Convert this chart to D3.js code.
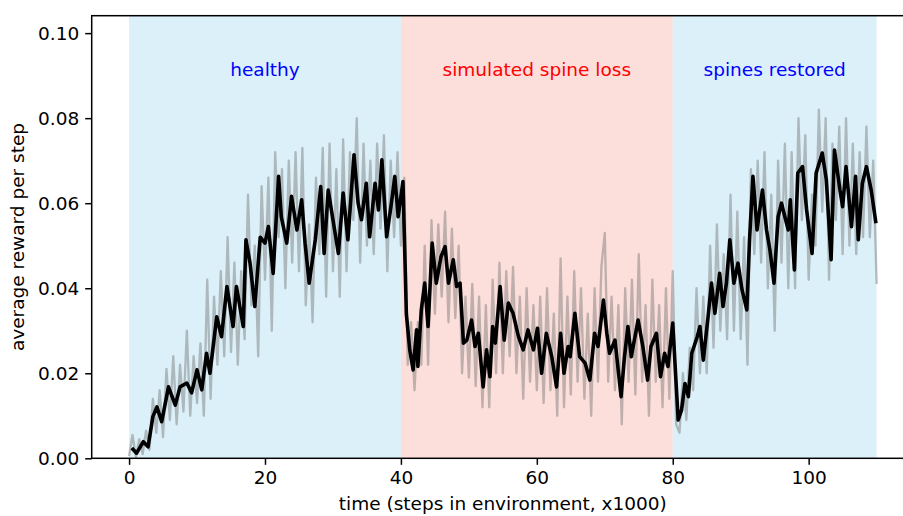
<!DOCTYPE html>
<html>
<head>
<meta charset="utf-8">
<script src="https://cdn.jsdelivr.net/npm/d3@7"></script>
<style>
  body { margin: 0; background: #fff; }
  text { font-family: "DejaVu Sans", sans-serif; }
</style>
</head>
<body>
<div id="chart"></div>
<script>
// experiment phases (x in thousands of steps)
const phaseNames = ['healthy', 'simulated spine loss', 'spines restored'];
const phaseStart = [0, 40, 80];
const phaseEnd = [40, 80, 110];
const phaseLabelX = [20, 60, 95];
const phaseFill = ['#dbf0f9', '#fcdeda', '#dbf0f9'];
const phaseTextColor = ['#0000ff', '#ff0000', '#0000ff'];

// raw reward trace, one sample every 500 steps from 0 to 110k
const rawStep = d3.range(0, 110.01, 0.5);
const rawReward = [
  0.0005, 0.0055, 0.0003, 0.0045, 0.001, 0.0065, 0.002, 0.014, 0.006, 0.016,
  0.005, 0.021, 0.009, 0.024, 0.008, 0.022, 0.011, 0.030, 0.010, 0.024,
  0.013, 0.027, 0.010, 0.042, 0.014, 0.038, 0.022, 0.044, 0.024, 0.052,
  0.025, 0.046, 0.022, 0.044, 0.028, 0.062, 0.036, 0.050, 0.024, 0.064,
  0.042, 0.066, 0.030, 0.072, 0.052, 0.068, 0.040, 0.070, 0.046, 0.072,
  0.044, 0.073, 0.036, 0.055, 0.032, 0.066, 0.048, 0.073, 0.038, 0.074,
  0.044, 0.068, 0.038, 0.075, 0.044, 0.072, 0.056, 0.080, 0.046, 0.074,
  0.050, 0.070, 0.048, 0.074, 0.054, 0.076, 0.044, 0.070, 0.052, 0.072,
  0.050, 0.066, 0.022, 0.032, 0.016, 0.032, 0.022, 0.050, 0.022, 0.056,
  0.034, 0.055, 0.038, 0.058, 0.032, 0.054, 0.033, 0.050, 0.020, 0.038,
  0.019, 0.041, 0.017, 0.038, 0.012, 0.036, 0.012, 0.042, 0.020, 0.046,
  0.020, 0.044, 0.024, 0.045, 0.020, 0.038, 0.014, 0.040, 0.018, 0.036,
  0.016, 0.038, 0.013, 0.040, 0.016, 0.034, 0.010, 0.047, 0.012, 0.038,
  0.015, 0.044, 0.018, 0.040, 0.014, 0.034, 0.010, 0.040, 0.018, 0.045,
  0.053, 0.018, 0.038, 0.016, 0.036, 0.008, 0.040, 0.018, 0.042, 0.015,
  0.048, 0.018, 0.036, 0.010, 0.042, 0.018, 0.036, 0.012, 0.040, 0.014,
  0.044, 0.008, 0.006, 0.020, 0.009, 0.026, 0.016, 0.040, 0.020, 0.038,
  0.020, 0.050, 0.026, 0.055, 0.030, 0.048, 0.028, 0.062, 0.030, 0.058,
  0.028, 0.052, 0.022, 0.068, 0.048, 0.070, 0.046, 0.072, 0.040, 0.062,
  0.030, 0.070, 0.046, 0.074, 0.040, 0.072, 0.040, 0.080, 0.056, 0.076,
  0.042, 0.062, 0.050, 0.082, 0.058, 0.080, 0.042, 0.074, 0.056, 0.078,
  0.048, 0.080, 0.050, 0.074, 0.048, 0.072, 0.052, 0.078, 0.052, 0.070,
  0.041
];

// smoothed reward (black line)
const meanStep = [
  0.4, 1.1, 2.1, 2.8, 3.5, 4.1, 4.8, 5.8, 6.8, 7.5, 8.5, 9.2, 10.0, 10.7, 11.4, 11.9,
  12.9, 13.6, 14.4, 15.3, 15.8, 16.8, 17.2, 17.8, 18.5, 19.3, 20.0, 20.5, 21.2, 22.0,
  22.4, 23.2, 23.9, 24.7, 25.4, 25.9, 26.5, 27.4, 28.2, 28.7, 29.3, 30.0, 30.8, 31.5,
  32.2, 33.1, 33.7, 34.2, 34.9, 35.4, 36.2, 36.7, 37.2, 37.9, 38.6, 39.1, 39.6, 40.3,
  40.8, 41.3, 41.8, 42.3, 42.5, 43.0, 43.5, 44.0, 44.6, 45.2, 45.9, 46.5, 47.0, 47.7,
  48.2, 48.7, 49.2, 49.7, 50.4, 50.9, 51.4, 52.1, 52.6, 53.1, 53.5, 53.9, 54.6, 55.2,
  55.8, 56.5, 57.3, 58.0, 58.7, 59.5, 60.1, 60.7, 61.4, 62.2, 62.9, 63.5, 64.0, 64.6,
  64.9, 65.6, 66.3, 67.1, 67.8, 68.5, 69.0, 69.8, 70.3, 70.7, 71.5, 72.4, 72.9, 73.4,
  73.9, 74.9, 75.6, 76.3, 76.8, 77.6, 78.2, 78.8, 79.3, 80.0, 80.8, 81.3, 81.8, 82.3,
  82.8, 83.6, 84.0, 84.5, 85.2, 85.7, 86.2, 86.9, 87.4, 87.9, 88.4, 89.0, 89.6, 90.2,
  90.9, 91.3, 91.8, 92.4, 93.2, 93.8, 94.3, 94.9, 95.5, 96.0, 96.5, 97.0, 97.3, 97.9,
  98.4, 99.1, 99.7, 100.5, 101.1, 102.0, 102.6, 103.3, 103.8, 104.6, 105.0, 105.5,
  106.3, 106.9, 107.3, 107.9, 108.5, 109.2, 109.9
];
const meanReward = [
  0.0024, 0.0012, 0.0039, 0.0027, 0.0098, 0.0121, 0.0086, 0.0168, 0.0125, 0.0168, 0.0177, 0.0154, 0.0208, 0.0161, 0.0247, 0.0200,
  0.0333, 0.0286, 0.0404, 0.0310, 0.0404, 0.0310, 0.0514, 0.0459, 0.0357, 0.0520, 0.0506, 0.0545, 0.0435, 0.0663,
  0.0568, 0.0506, 0.0616, 0.0537, 0.0608, 0.0506, 0.0412, 0.0514, 0.0639, 0.0482, 0.0631, 0.0561, 0.0482, 0.0624,
  0.0514, 0.0714, 0.0600, 0.0561, 0.0647, 0.0521, 0.0647, 0.0584, 0.0702, 0.0521, 0.0600, 0.0663, 0.0568, 0.0651,
  0.0340, 0.0255, 0.0208, 0.0302, 0.0216, 0.0349, 0.0412, 0.0310, 0.0506, 0.0412, 0.0474, 0.0498, 0.0412, 0.0467,
  0.0404, 0.0412, 0.0271, 0.0278, 0.0325, 0.0263, 0.0294, 0.0168, 0.0255, 0.0192, 0.0310, 0.0271, 0.0404, 0.0278,
  0.0365, 0.0341, 0.0286, 0.0255, 0.0302, 0.0255, 0.0306, 0.0200, 0.0294, 0.0239, 0.0168, 0.0294, 0.0200, 0.0263,
  0.0239, 0.0341, 0.0239, 0.0224, 0.0184, 0.0294, 0.0263, 0.0372, 0.0294, 0.0247, 0.0278, 0.0145, 0.0239, 0.0310,
  0.0239, 0.0325, 0.0263, 0.0184, 0.0263, 0.0294, 0.0192, 0.0247, 0.0216, 0.0318, 0.0090, 0.0114, 0.0176, 0.0145,
  0.0247, 0.0286, 0.0310, 0.0231, 0.0333, 0.0412, 0.0341, 0.0435, 0.0357, 0.0412, 0.0514, 0.0412, 0.0459, 0.0396,
  0.0349, 0.0514, 0.0663, 0.0537, 0.0631, 0.0537, 0.0490, 0.0412, 0.0568, 0.0600, 0.0568, 0.0537, 0.0608, 0.0443,
  0.0671, 0.0686, 0.0584, 0.0482, 0.0671, 0.0718, 0.0655, 0.0467, 0.0725, 0.0631, 0.0592, 0.0686,
  0.0545, 0.0663, 0.0514, 0.0647, 0.0686, 0.0631, 0.0553
];

const xTicks = [0, 20, 40, 60, 80, 100];
const yTicks = [0, 0.02, 0.04, 0.06, 0.08, 0.10];
const xLabelText = 'time (steps in environment, x1000)';
const yLabelText = 'average reward per step';

// margins follow the matplotlib axes box (right spine sits just off the page)
let margin = { top: 15.7, left: 91.7, right: -11, bottom: 57.7 },
  width = 903 - margin.left - margin.right,
  height = 516 - margin.top - margin.bottom,
  fontSize = 18.5;

let svg = d3.select('#chart')
  .append('svg')
    .attr('width', 903)
    .attr('height', 516);

let g = svg.append('g')
    .attr('transform', 'translate(' + margin.left + ',' + margin.top + ')');

let xScale = d3.scaleLinear().domain([-5.5, 115.5]).range([0, width]);
let yScale = d3.scaleLinear().domain([0, 0.1041]).range([height, 0]);

// shaded phases
g.append('g')
  .selectAll('rect')
  .data(phaseNames)
  .enter().append('rect')
    .attr('x', (d, i) => xScale(phaseStart[i]))
    .attr('width', (d, i) => xScale(phaseEnd[i]) - xScale(phaseStart[i]))
    .attr('y', 0)
    .attr('height', height)
    .attr('fill', (d, i) => phaseFill[i]);

// raw trace
let rawData = rawStep.map((s, i) => [s, rawReward[i]]);
let line = d3.line()
  .x(d => xScale(d[0]))
  .y(d => yScale(d[1]));

g.append('path')
    .datum(rawData)
    .attr('fill', 'none')
    .attr('stroke', '#808080')
    .attr('stroke-opacity', 0.5)
    .attr('stroke-width', 2.3)
    .attr('stroke-linejoin', 'round')
    .attr('d', line);

// smoothed trace
let meanData = meanStep.map((s, i) => [s, meanReward[i]]);
g.append('path')
    .datum(meanData)
    .attr('fill', 'none')
    .attr('stroke', '#000')
    .attr('stroke-width', 3.6)
    .attr('stroke-linejoin', 'round')
    .attr('d', line);

// phase labels
g.append('g')
  .selectAll('text')
  .data(phaseNames)
  .enter().append('text')
    .attr('x', (d, i) => xScale(phaseLabelX[i]))
    .attr('y', yScale(0.09))
    .attr('text-anchor', 'middle')
    .attr('font-size', fontSize)
    .attr('fill', (d, i) => phaseTextColor[i])
    .text(d => d);

// axes
let xAxis = g.append('g')
    .attr('transform', 'translate(0,' + height + ')')
    .call(d3.axisBottom(xScale).tickValues(xTicks).tickSize(6.5).tickPadding(6).tickSizeOuter(0));

let yAxis = g.append('g')
    .call(d3.axisLeft(yScale).tickValues(yTicks).tickFormat(d3.format('.2f')).tickSize(6.5).tickPadding(6).tickSizeOuter(0));

[xAxis, yAxis].forEach(a => {
  a.select('.domain').remove();
  a.selectAll('.tick line').attr('stroke', '#000').attr('stroke-width', 1.5);
  a.selectAll('.tick text')
    .attr('fill', '#000')
    .attr('font-size', fontSize)
    .attr('font-family', '"DejaVu Sans", sans-serif');
});

// frame
g.append('rect')
    .attr('width', width)
    .attr('height', height)
    .attr('fill', 'none')
    .attr('stroke', '#000')
    .attr('stroke-width', 1.5);

// axis labels
svg.append('text')
    .attr('x', margin.left + xScale(55))
    .attr('y', 510)
    .attr('text-anchor', 'middle')
    .attr('font-size', fontSize)
    .text(xLabelText);

svg.append('text')
    .attr('transform', 'translate(24,' + (margin.top + height / 2) + ') rotate(-90)')
    .attr('text-anchor', 'middle')
    .attr('font-size', fontSize)
    .text(yLabelText);
</script>
</body>
</html>
